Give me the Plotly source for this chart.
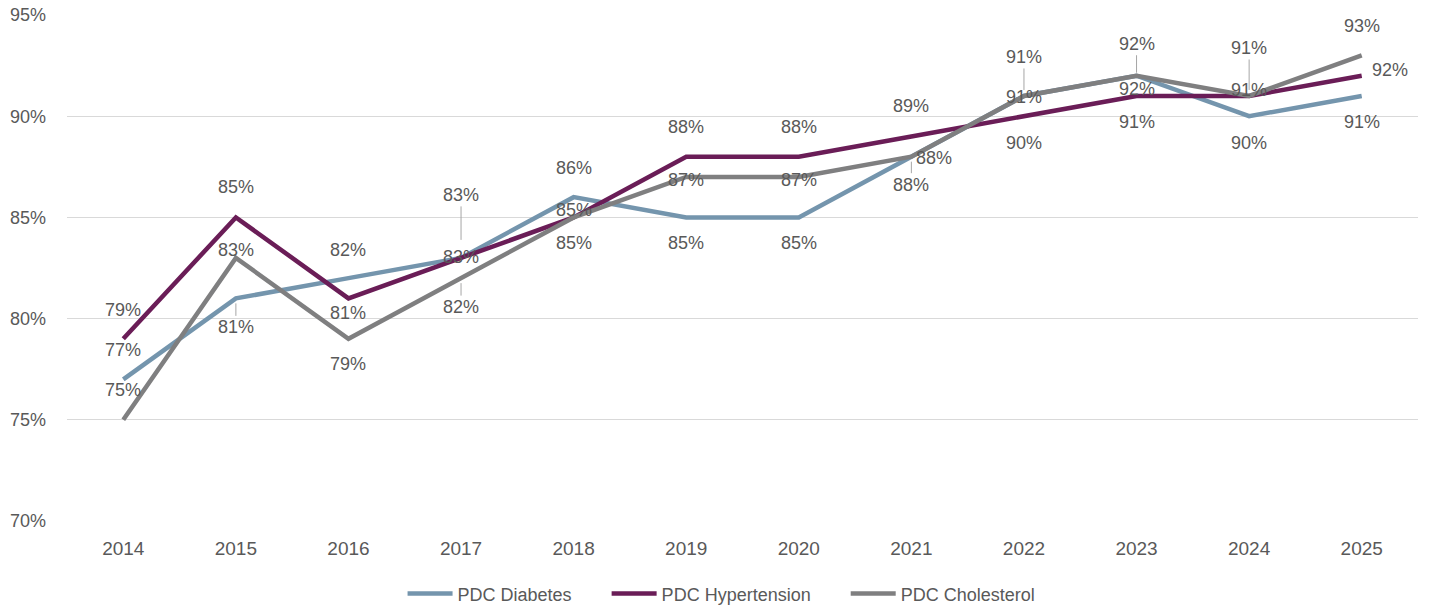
import plotly.graph_objects as go

# PDC adherence rates by year
years = ["2014", "2015", "2016", "2017", "2018", "2019", "2020",
         "2021", "2022", "2023", "2024", "2025"]
pdc_diabetes = [77, 81, 82, 83, 86, 85, 85, 88, 91, 92, 90, 91]
pdc_hypertension = [79, 85, 81, 83, 85, 88, 88, 89, 90, 91, 91, 92]
pdc_cholesterol = [75, 83, 79, 82, 85, 87, 87, 88, 91, 92, 91, 93]

# Label placement per point: (dx px, dy px, leader-line standoff or None)
diabetes_lbl = [(0, -29, None), (0, 29, 5), (0, -28, None), (0, -63, 18),
                (0, -29, None), (0, 26, None), (0, 26, None), (0, 28, 5),
                (0, 1, None), (0, 13, None), (0, 27, None), (0, 26, None)]
hypertension_lbl = [(0, -29, None), (0, -30, None), (0, 15, None), (0, -1, None),
                    (0, -7, None), (0, -30, None), (0, -30, None), (0, -30, None),
                    (0, 27, None), (0, 26, None), (0, -6, None), (28, -6, None)]
cholesterol_lbl = [(0, -30, None), (0, -8, None), (0, 25, None), (0, 29, 5),
                   (0, 26, None), (0, 3, None), (0, 3, None), (23, 1, None),
                   (0, -39, 6), (0, -32, 3), (0, -48, 6), (0, -29, None)]

# legend entries are spaced apart with trailing non-breaking spaces
GAP = "\u00a0" * 6
series = [
    ("PDC Diabetes" + GAP, pdc_diabetes, "#7495AD", diabetes_lbl),
    ("PDC Hypertension" + GAP, pdc_hypertension, "#6A1D57", hypertension_lbl),
    ("PDC Cholesterol", pdc_cholesterol, "#7F7F80", cholesterol_lbl),
]

base_font = "Liberation Sans, Arial, sans-serif"
label_font = dict(family=base_font, size=18, color="#595959")

fig = go.Figure()
for name, vals, color, _ in series:
    fig.add_trace(go.Scatter(
        x=years, y=vals, name=name, mode="lines",
        line=dict(color=color, width=4.5),
    ))

# Data labels; category positions are given as indices
for name, vals, color, lbls in series:
    for i, (v, (dx, dy, leader)) in enumerate(zip(vals, lbls)):
        if leader is None:
            fig.add_annotation(x=i, y=v, text=f"{v}%", showarrow=False,
                               xshift=dx, yshift=-dy, font=label_font)
        else:
            fig.add_annotation(x=i, y=v, text=f"{v}%", showarrow=True,
                               ax=dx, ay=dy, arrowhead=0, arrowwidth=1,
                               arrowcolor="#A6A6A6", standoff=leader,
                               font=label_font)

fig.update_layout(
    width=1429, height=611,
    margin=dict(l=67, r=11, t=15, b=90, autoexpand=False),
    paper_bgcolor="white", plot_bgcolor="white",
    showlegend=True,
    legend=dict(orientation="h", x=0.4845, xanchor="center",
                yref="container", y=0.028, yanchor="middle", itemwidth=45,
                font=dict(family=base_font, size=18, color="#595959")),
    xaxis=dict(type="category", range=[-0.5, 11.5], showgrid=False,
               zeroline=False, showline=False, ticks="",
               ticklabelstandoff=14, automargin=False,
               tickfont=dict(family=base_font, size=19, color="#595959")),
    yaxis=dict(range=[70, 95], dtick=5, ticksuffix="%", showgrid=True,
               gridcolor="#D9D9D9", gridwidth=1, zeroline=False,
               showline=False, ticks="", ticklabelstandoff=20,
               automargin=False,
               tickfont=dict(family=base_font, size=18, color="#595959")),
)

fig.write_html("out.html")
